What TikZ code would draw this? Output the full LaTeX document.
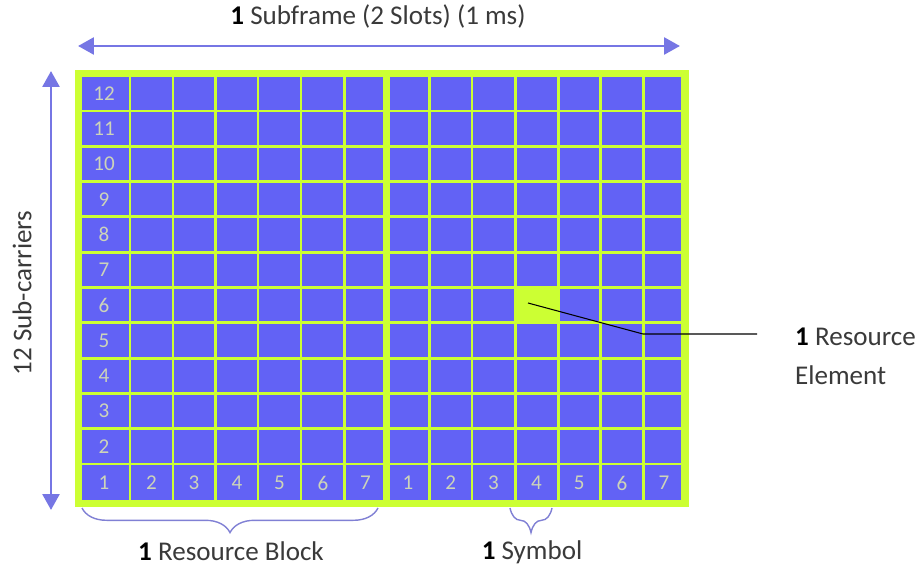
\documentclass[tikz,border=0pt]{standalone}
\usepackage{fontspec}
\setmainfont{Carlito}
\usetikzlibrary{arrows.meta}
\usetikzlibrary{decorations.pathreplacing}
\usepackage{xcolor}
\definecolor{RBBlue}{RGB}{98,98,245}
\definecolor{RBGreen}{RGB}{204,255,51}
\definecolor{RBArrow}{RGB}{118,118,228}
\definecolor{RBBrace}{RGB}{128,128,212}
\definecolor{RBNum}{RGB}{205,212,185}
\definecolor{RBText}{RGB}{58,58,58}

\begin{document}
\begin{tikzpicture}[x=0.02cm, y=-0.02cm,
  gridline/.style={RBGreen, line width=1.7pt},
  num/.style={RBNum, font=\fontsize{12}{12}\selectfont},
  lbl/.style={RBText, font=\fontsize{15.4}{22}\selectfont},
  dimarrow/.style={RBArrow, line width=1.7pt, {Triangle[length=9pt,width=9.5pt]}-{Triangle[length=9pt,width=9.5pt]}},
  rbbrace/.style={RBBrace, line width=0.8pt, decorate, decoration={brace, mirror, amplitude=14pt}}]
\useasboundingbox (0,0) rectangle (916,567);

\def\one{\textcolor{black}{\textbf{1}}}

% Frame
\draw[RBGreen, line width = 4pt, fill = RBBlue] (78.5,73.5) rectangle (685,503.5);

% Resource element
\fill[RBGreen] (515,287.5) rectangle (558,322.8);

% Rows
\draw[gridline] (78.5,111) -- (685,111);
\draw[gridline] (78.5,146.3) -- (685,146.3);
\draw[gridline] (78.5,181.6) -- (685,181.6);
\draw[gridline] (78.5,216.9) -- (685,216.9);
\draw[gridline] (78.5,252.2) -- (685,252.2);
\draw[gridline] (78.5,287.5) -- (685,287.5);
\draw[gridline] (78.5,322.8) -- (685,322.8);
\draw[gridline] (78.5,358.1) -- (685,358.1);
\draw[gridline] (78.5,393.4) -- (685,393.4);
\draw[gridline] (78.5,428.7) -- (685,428.7);
\draw[gridline] (78.5,464) -- (685,464);

% Columns
\draw[gridline] (130,73.5) -- (130,503.5);
\draw[gridline] (173,73.5) -- (173,503.5);
\draw[gridline] (215.5,73.5) -- (215.5,503.5);
\draw[gridline] (258,73.5) -- (258,503.5);
\draw[gridline] (301,73.5) -- (301,503.5);
\draw[gridline] (344.5,73.5) -- (344.5,503.5);
\draw[gridline] (429.3,73.5) -- (429.3,503.5);
\draw[gridline] (472,73.5) -- (472,503.5);
\draw[gridline] (515,73.5) -- (515,503.5);
\draw[gridline] (558,73.5) -- (558,503.5);
\draw[gridline] (600.6,73.5) -- (600.6,503.5);
\draw[gridline] (643.4,73.5) -- (643.4,503.5);

% Slot border
\draw[RBGreen, line width = 4pt] (386.5,73.5) -- (386.5,503.5);

% Sub-carrier numbers
\node[num] (r12) at (104,93.5) {12};
\node[num] (r11) at (104,128.6) {11};
\node[num] (r10) at (104,164) {10};
\node[num] (r9) at (104,199.2) {9};
\node[num] (r8) at (104,234.5) {8};
\node[num] (r7) at (104,269.8) {7};
\node[num] (r6) at (104,305.1) {6};
\node[num] (r5) at (104,340.4) {5};
\node[num] (r4) at (104,375.7) {4};
\node[num] (r3) at (104,411) {3};
\node[num] (r2) at (104,446.3) {2};
\node[num] (r1) at (104,483) {1};

% Symbol numbers
\node[num] (c2) at (151.5,483) {2};
\node[num] (c3) at (194,483) {3};
\node[num] (c4) at (237,483) {4};
\node[num] (c5) at (279.5,483) {5};
\node[num] (c6) at (323,483) {6};
\node[num] (c7) at (365.5,483) {7};
\node[num] (d1) at (408,483) {1};
\node[num] (d2) at (450.6,483) {2};
\node[num] (d3) at (493.5,483) {3};
\node[num] (d4) at (536.5,483) {4};
\node[num] (d5) at (579.3,483) {5};
\node[num] (d6) at (622,483) {6};
\node[num] (d7) at (664,483) {7};

% Subframe
\coordinate (sfl) at (78,46);
\coordinate (sfr) at (680,46);
\draw[dimarrow] (sfl) -- (sfr);
\node[lbl] (sf) at (378,16) {\one{} Subframe (2 Slots) (1 ms)};

% Sub-carriers
\coordinate (sct) at (51,71);
\coordinate (scb) at (51,510);
\draw[dimarrow] (sct) -- (scb);
\node[lbl, rotate = 90] (sc) at (22,293) {12 Sub-carriers};

% Resource block
\coordinate (rbl) at (82,508);
\coordinate (rbr) at (378,508);
\draw[rbbrace] (rbl) -- (rbr);
\node[lbl] (rb) at (231,551) {\one{} Resource Block};

% Symbol
\coordinate (syl) at (510,508);
\coordinate (syr) at (552,508);
\draw[rbbrace] (syl) -- (syr);
\node[lbl] (sy) at (532,552) {\one{} Symbol};

% Resource element label
\coordinate (re) at (528,303);
\coordinate (rebend) at (643,334);
\coordinate (reend) at (757,334);
\draw[black, line width = 0.6pt] (re) -- (rebend) -- (reend);
\node[lbl, anchor = west, align = left] (rel) at (789,356) {\one{} Resource\\Element};

\end{tikzpicture}
\end{document}
